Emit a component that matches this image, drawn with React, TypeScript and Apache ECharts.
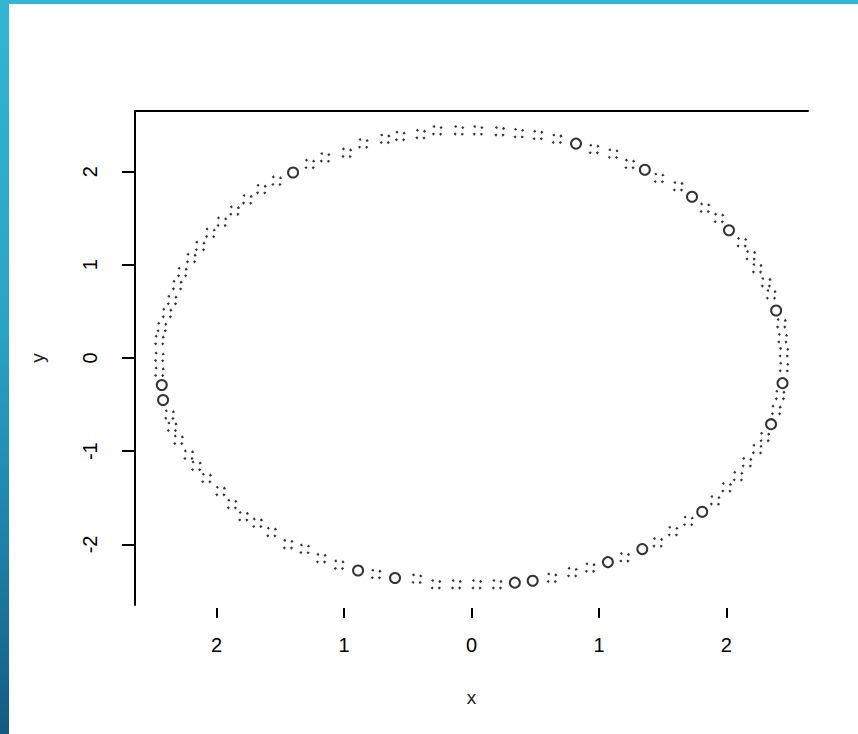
import React, { useEffect, useRef } from "react";
import * as echarts from "echarts";

// Points drawn as clearly visible rings in the reference
const ringX = [-1.4, 0.82, 1.36, 1.73, 2.02, 2.39, 2.44, 2.35, 1.81, 1.34, 1.07, 0.48, 0.34, -0.6, -0.89, -2.42, -2.43];
const ringY = [1.99, 2.3, 2.02, 1.73, 1.37, 0.51, -0.27, -0.71, -1.65, -2.05, -2.19, -2.39, -2.41, -2.36, -2.28, -0.45, -0.29];

// Remaining points (rendered as broken, dotted rings)
const dotX = [
  -2.45, -2.45, -2.45, -2.43, -2.39, -2.35, -2.31, -2.27, -2.2, -2.13, -2.05, -1.96, -1.86, -1.76, -1.65, -1.53,
  -1.27, -1.15, -0.98, -0.85, -0.68, -0.56, -0.4, -0.27, -0.1, 0.05, 0.22, 0.37, 0.52, 0.67,
  0.96, 1.11, 1.24, 1.47, 1.62, 1.83, 1.94, 2.12, 2.19, 2.24, 2.31, 2.35,
  2.43, 2.44, 2.45, 2.45, 2.42, 2.39, 2.3, 2.24, 2.16, 2.09, 2.0, 1.91,
  1.7, 1.58, 1.46, 1.2, 0.93, 0.79, 0.63, 0.2, 0.04, -0.12, -0.28, -0.43,
  -0.75, -1.04, -1.18, -1.31, -1.44, -1.57, -1.68, -1.79, -1.88, -1.97, -2.08, -2.16, -2.22, -2.3, -2.35, -2.37,
];
const dotY = [
  -0.15, 0.01, 0.19, 0.33, 0.48, 0.62, 0.78, 0.92, 1.07, 1.2, 1.34, 1.46, 1.58, 1.7, 1.81, 1.9,
  2.08, 2.15, 2.2, 2.3, 2.35, 2.38, 2.4, 2.44, 2.44, 2.44, 2.43, 2.41, 2.39, 2.35,
  2.24, 2.19, 2.08, 1.93, 1.84, 1.61, 1.5, 1.24, 1.1, 0.96, 0.81, 0.68,
  0.37, 0.21, 0.06, -0.1, -0.4, -0.56, -0.85, -0.98, -1.12, -1.27, -1.39, -1.53,
  -1.75, -1.86, -1.98, -2.14, -2.25, -2.3, -2.36, -2.43, -2.43, -2.43, -2.43, -2.37,
  -2.32, -2.22, -2.15, -2.05, -2.0, -1.87, -1.77, -1.7, -1.57, -1.43, -1.29, -1.16, -1.04, -0.88, -0.74, -0.61,
];

const xTicks = [-2, -1, 0, 1, 2];
const xTickLabels = ["2", "1", "0", "1", "2"];
const yTicks = [-2, -1, 0, 1, 2];
const yTickLabels = ["-2", "-1", "0", "1", "2"];
const xName = "x";
const yName = "y";

const FONT = "'Liberation Sans', Arial, sans-serif";

export default function App() {
  const ref = useRef<HTMLDivElement>(null);

  useEffect(() => {
    const chart = echarts.init(ref.current!, null, { renderer: "svg" });
    const ringData = ringX.map((x, i) => [x, ringY[i]]);
    const dotData = dotX.map((x, i) => [x, dotY[i]]);
    chart.setOption({
      animation: false,
      grid: { left: 135, right: 50, top: 111, bottom: 129, containLabel: false },
      xAxis: [
        {
          type: "value",
          position: "bottom",
          min: -2.64,
          max: 2.64,
          offset: 3,
          axisLine: { show: false, onZero: false },
          axisTick: {
            show: true,
            customValues: xTicks,
            length: 10,
            lineStyle: { color: "#000", width: 2 },
          },
          axisLabel: {
            show: true,
            customValues: xTicks,
            margin: 27,
            fontSize: 20,
            fontFamily: FONT,
            color: "#000",
            formatter: (v: number) => xTickLabels[xTicks.indexOf(Math.round(v))] ?? "",
          },
          splitLine: { show: false },
          name: xName,
          nameLocation: "middle",
          nameGap: 80,
          nameTextStyle: { fontSize: 19, fontFamily: FONT, color: "#222" },
        },
        {
          type: "value",
          position: "top",
          min: -2.64,
          max: 2.64,
          axisLine: { show: true, onZero: false, lineStyle: { color: "#000", width: 2 } },
          axisTick: { show: false },
          axisLabel: { show: false },
          splitLine: { show: false },
        },
      ],
      yAxis: {
        type: "value",
        position: "left",
        min: -2.65,
        max: 2.65,
        axisLine: { show: true, onZero: false, lineStyle: { color: "#000", width: 2 } },
        axisTick: {
          show: true,
          customValues: yTicks,
          length: 13,
          lineStyle: { color: "#000", width: 2 },
        },
        axisLabel: {
          show: true,
          customValues: yTicks,
          rotate: 90,
          margin: 35,
          fontSize: 20,
          fontFamily: FONT,
          color: "#000",
          formatter: (v: number) => yTickLabels[yTicks.indexOf(Math.round(v))] ?? "",
        },
        splitLine: { show: false },
        name: yName,
        nameLocation: "middle",
        nameGap: 88,
        nameRotate: 90,
        nameTextStyle: { fontSize: 19, fontFamily: FONT, color: "#222" },
      },
      series: [
        {
          type: "scatter",
          xAxisIndex: 0,
          data: dotData,
          symbol: "circle",
          symbolSize: 10,
          silent: true,
          itemStyle: {
            color: "rgba(0,0,0,0)",
            borderColor: "#000",
            borderWidth: 2.3,
            borderType: [2.2, 5.65],
            borderDashOffset: 3.1,
          },
        },
        {
          type: "scatter",
          xAxisIndex: 0,
          data: ringData,
          symbol: "circle",
          symbolSize: 10,
          silent: true,
          itemStyle: {
            color: "rgba(0,0,0,0)",
            borderColor: "#000",
            borderWidth: 2,
          },
        },
      ],
    });
    return () => chart.dispose();
  }, []);

  return (
    <div
      style={{
        position: "fixed",
        left: 0,
        top: 0,
        width: 858,
        height: 734,
        background: "linear-gradient(180deg, #31b6d3 0%, #2aa3c4 45%, #1d80a6 75%, #145a82 100%)",
        overflow: "hidden",
      }}
    >
      <div style={{ position: "absolute", left: 9, top: 4, right: 0, bottom: 0, background: "#fff" }} />
      <div ref={ref} style={{ position: "absolute", left: 0, top: 0, width: 858, height: 734 }} />
    </div>
  );
}
